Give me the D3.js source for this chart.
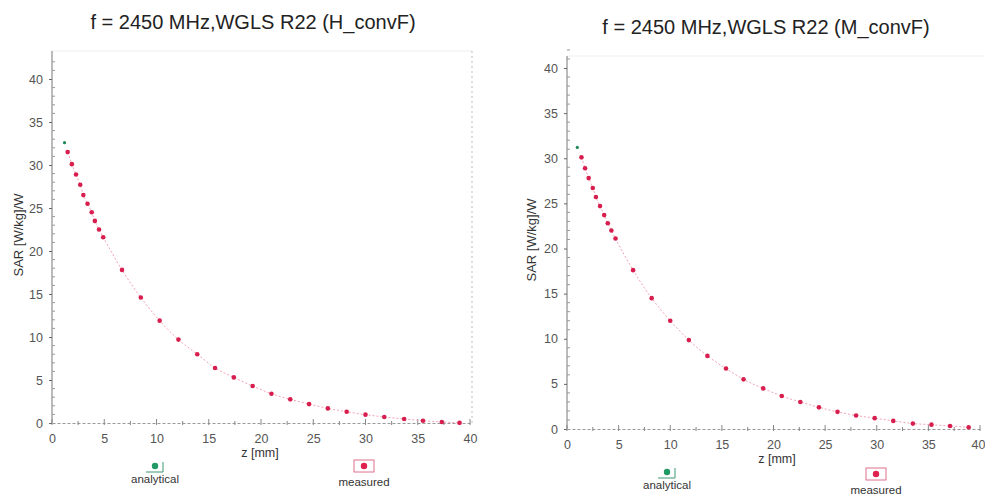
<!DOCTYPE html>
<html>
<head>
<meta charset="utf-8">
<script src="https://cdn.jsdelivr.net/npm/d3@7"></script>
<style>
  body { margin: 0; background: #fff; }
  svg { display: block; font-family: 'Liberation Sans', Arial, sans-serif; }
</style>
</head>
<body>
<svg id="chart" width="985" height="495"></svg>
<script>
// tick labels shared by both panels
const xTicks = [0, 5, 10, 15, 20, 25, 30, 35, 40];
const yTicks = [0, 5, 10, 15, 20, 25, 30, 35, 40];

// H_convF panel
const hTitle = 'f = 2450 MHz,WGLS R22 (H_convF)';
const hAnaZ = [1.2];
const hAnaSar = [32.6];
const hMeasZ = [1.5, 1.9, 2.3, 2.7, 3.0, 3.4, 3.8, 4.1, 4.5, 4.9, 6.7, 8.5, 10.3, 12.1, 13.9, 15.6,
  17.4, 19.2, 21.0, 22.8, 24.6, 26.4, 28.2, 30.0, 31.8, 33.7, 35.5, 37.3, 39.0];
const hMeasSar = [31.5, 30.1, 28.9, 27.7, 26.5, 25.5, 24.5, 23.5, 22.5, 21.6, 17.8, 14.6, 11.9, 9.7, 8.0, 6.4,
  5.3, 4.3, 3.4, 2.75, 2.2, 1.7, 1.3, 0.97, 0.7, 0.47, 0.27, 0.12, 0.02];

// M_convF panel
const mTitle = 'f = 2450 MHz,WGLS R22 (M_convF)';
const mAnaZ = [1.0];
const mAnaSar = [31.2];
const mMeasZ = [1.4, 1.75, 2.1, 2.5, 2.8, 3.2, 3.6, 3.95, 4.3, 4.7, 6.4, 8.2, 10.0, 11.8, 13.6, 15.4,
  17.1, 19.0, 20.8, 22.6, 24.4, 26.2, 28.0, 29.8, 31.6, 33.5, 35.3, 37.1, 38.9];
const mMeasSar = [30.1, 28.9, 27.8, 26.7, 25.7, 24.7, 23.7, 22.8, 22.0, 21.1, 17.6, 14.5, 12.0, 9.85, 8.1, 6.7,
  5.5, 4.5, 3.65, 3.0, 2.4, 1.9, 1.5, 1.2, 0.9, 0.6, 0.48, 0.33, 0.19];

const svg = d3.select('#chart');

function drawPanel(p) {
  const x = d3.scaleLinear().domain([0, 40]).range([p.left, p.right]);
  const y = d3.scaleLinear().domain([0, 40]).range([p.bottom, p.top]);
  const g = svg.append('g');

  // title
  g.append('text')
    .attr('x', p.titleX).attr('y', p.titleY)
    .attr('text-anchor', 'middle')
    .style('font-size', '20px').attr('fill', '#222')
    .text(p.title);

  // faint frame (top / right)
  g.append('line')
    .attr('x1', p.left).attr('x2', p.frameRight)
    .attr('y1', p.frameTop).attr('y2', p.frameTop)
    .attr('stroke', '#eee');
  g.append('line')
    .attr('x1', p.frameRight).attr('x2', p.frameRight)
    .attr('y1', p.frameTop).attr('y2', p.bottom)
    .attr('stroke', '#bbb').attr('stroke-dasharray', '2,3');

  // y axis
  const yAxis = g.append('g')
    .attr('transform', `translate(${p.left},0)`)
    .call(d3.axisLeft(y).tickValues(yTicks).tickSize(3).tickPadding(6));
  yAxis.select('.domain').attr('stroke', '#777').attr('d', `M0,${p.bottom}V${p.frameTop}`);
  yAxis.selectAll('.tick line').attr('stroke', '#666');
  yAxis.selectAll('.tick text').attr('fill', '#555').style('font-size', '12.5px');
  g.append('g')
    .selectAll('line')
    .data(d3.range(0, 43, 1).filter(d => d % 5 !== 0))
    .join('line')
    .attr('x1', p.left).attr('x2', p.left + 3)
    .attr('y1', d => y(d)).attr('y2', d => y(d))
    .attr('stroke', '#999');

  // x axis at SAR = 0
  const xAxis = g.append('g')
    .attr('transform', `translate(0,${y(0)})`)
    .call(d3.axisBottom(x).tickValues(xTicks).tickSize(0).tickPadding(11));
  xAxis.select('.domain').attr('stroke', '#999').attr('stroke-dasharray', '3,2');
  xAxis.selectAll('.tick text').attr('fill', '#555').style('font-size', '12.5px');
  if (p.clipLast) {
    xAxis.selectAll('.tick text').filter(d => d === 40)
      .attr('text-anchor', 'end').attr('x', 5);
  }
  g.append('g')
    .selectAll('line')
    .data(d3.range(0, 40.1, 2.5))
    .join('line')
    .attr('x1', d => x(d)).attr('x2', d => x(d))
    .attr('y1', d => y(0) - (d % 5 === 0 ? 4 : 2)).attr('y2', y(0) + 2)
    .attr('stroke', '#888');

  // axis titles
  g.append('text')
    .attr('transform', `translate(${p.yLabelX},${p.yLabelY}) rotate(-90)`)
    .attr('text-anchor', 'middle')
    .style('font-size', '13px').attr('fill', '#333')
    .text('SAR [W/kg]/W');
  g.append('text')
    .attr('x', p.xLabelX).attr('y', p.xLabelY)
    .attr('text-anchor', 'middle')
    .style('font-size', '12.5px').attr('fill', '#333')
    .text('z [mm]');

  // fitted curve
  const pts = p.measZ.map((z, i) => [z, p.measSar[i]]);
  g.append('path')
    .datum(pts)
    .attr('fill', 'none')
    .attr('stroke', '#f2a2b4')
    .attr('stroke-width', 1)
    .attr('stroke-dasharray', '2,2')
    .attr('d', d3.line().x(d => x(d[0])).y(d => y(d[1])).curve(d3.curveMonotoneX));

  // measured
  g.append('g')
    .selectAll('circle')
    .data(pts)
    .join('circle')
    .attr('cx', d => x(d[0])).attr('cy', d => y(d[1]))
    .attr('r', 2.3)
    .attr('fill', '#d81e4e');

  // analytical
  g.append('g')
    .selectAll('circle')
    .data(p.anaZ.map((z, i) => [z, p.anaSar[i]]))
    .join('circle')
    .attr('cx', d => x(d[0])).attr('cy', d => y(d[1]))
    .attr('r', 1.6)
    .attr('fill', '#1f8a5c');

  // legend
  const la = g.append('g').attr('transform', `translate(${p.legA[0]},${p.legA[1]})`);
  la.append('path').attr('d', 'M-9,6H8V-4').attr('fill', 'none').attr('stroke', '#3a9a70');
  la.append('circle').attr('r', 3.2).attr('fill', '#1f9a64');
  la.append('text').attr('y', 17).attr('text-anchor', 'middle')
    .style('font-size', '11.5px').attr('fill', '#333').text('analytical');

  const lm = g.append('g').attr('transform', `translate(${p.legM[0]},${p.legM[1]})`);
  lm.append('rect').attr('x', -10).attr('y', -6).attr('width', 20).attr('height', 12)
    .attr('fill', 'none').attr('stroke', '#e0708a');
  lm.append('circle').attr('r', 3.2).attr('fill', '#e0204e');
  lm.append('text').attr('y', 20).attr('text-anchor', 'middle')
    .style('font-size', '11.5px').attr('fill', '#333').text('measured');
}

drawPanel({
  title: hTitle, titleX: 253, titleY: 29,
  left: 52, right: 470, top: 79, bottom: 423, frameTop: 51, frameRight: 472,
  yLabelX: 23, yLabelY: 235, xLabelX: 260, xLabelY: 457,
  anaZ: hAnaZ, anaSar: hAnaSar, measZ: hMeasZ, measSar: hMeasSar,
  legA: [155, 466], legM: [364, 466]
});

drawPanel({
  title: mTitle, titleX: 766, titleY: 34,
  left: 567, right: 980, top: 68, bottom: 429, frameTop: 56, frameRight: 990,
  yLabelX: 536, yLabelY: 240, xLabelX: 777, xLabelY: 463,
  anaZ: mAnaZ, anaSar: mAnaSar, measZ: mMeasZ, measSar: mMeasSar,
  legA: [667, 472], legM: [876, 474], clipLast: true
});
</script>
</body>
</html>
